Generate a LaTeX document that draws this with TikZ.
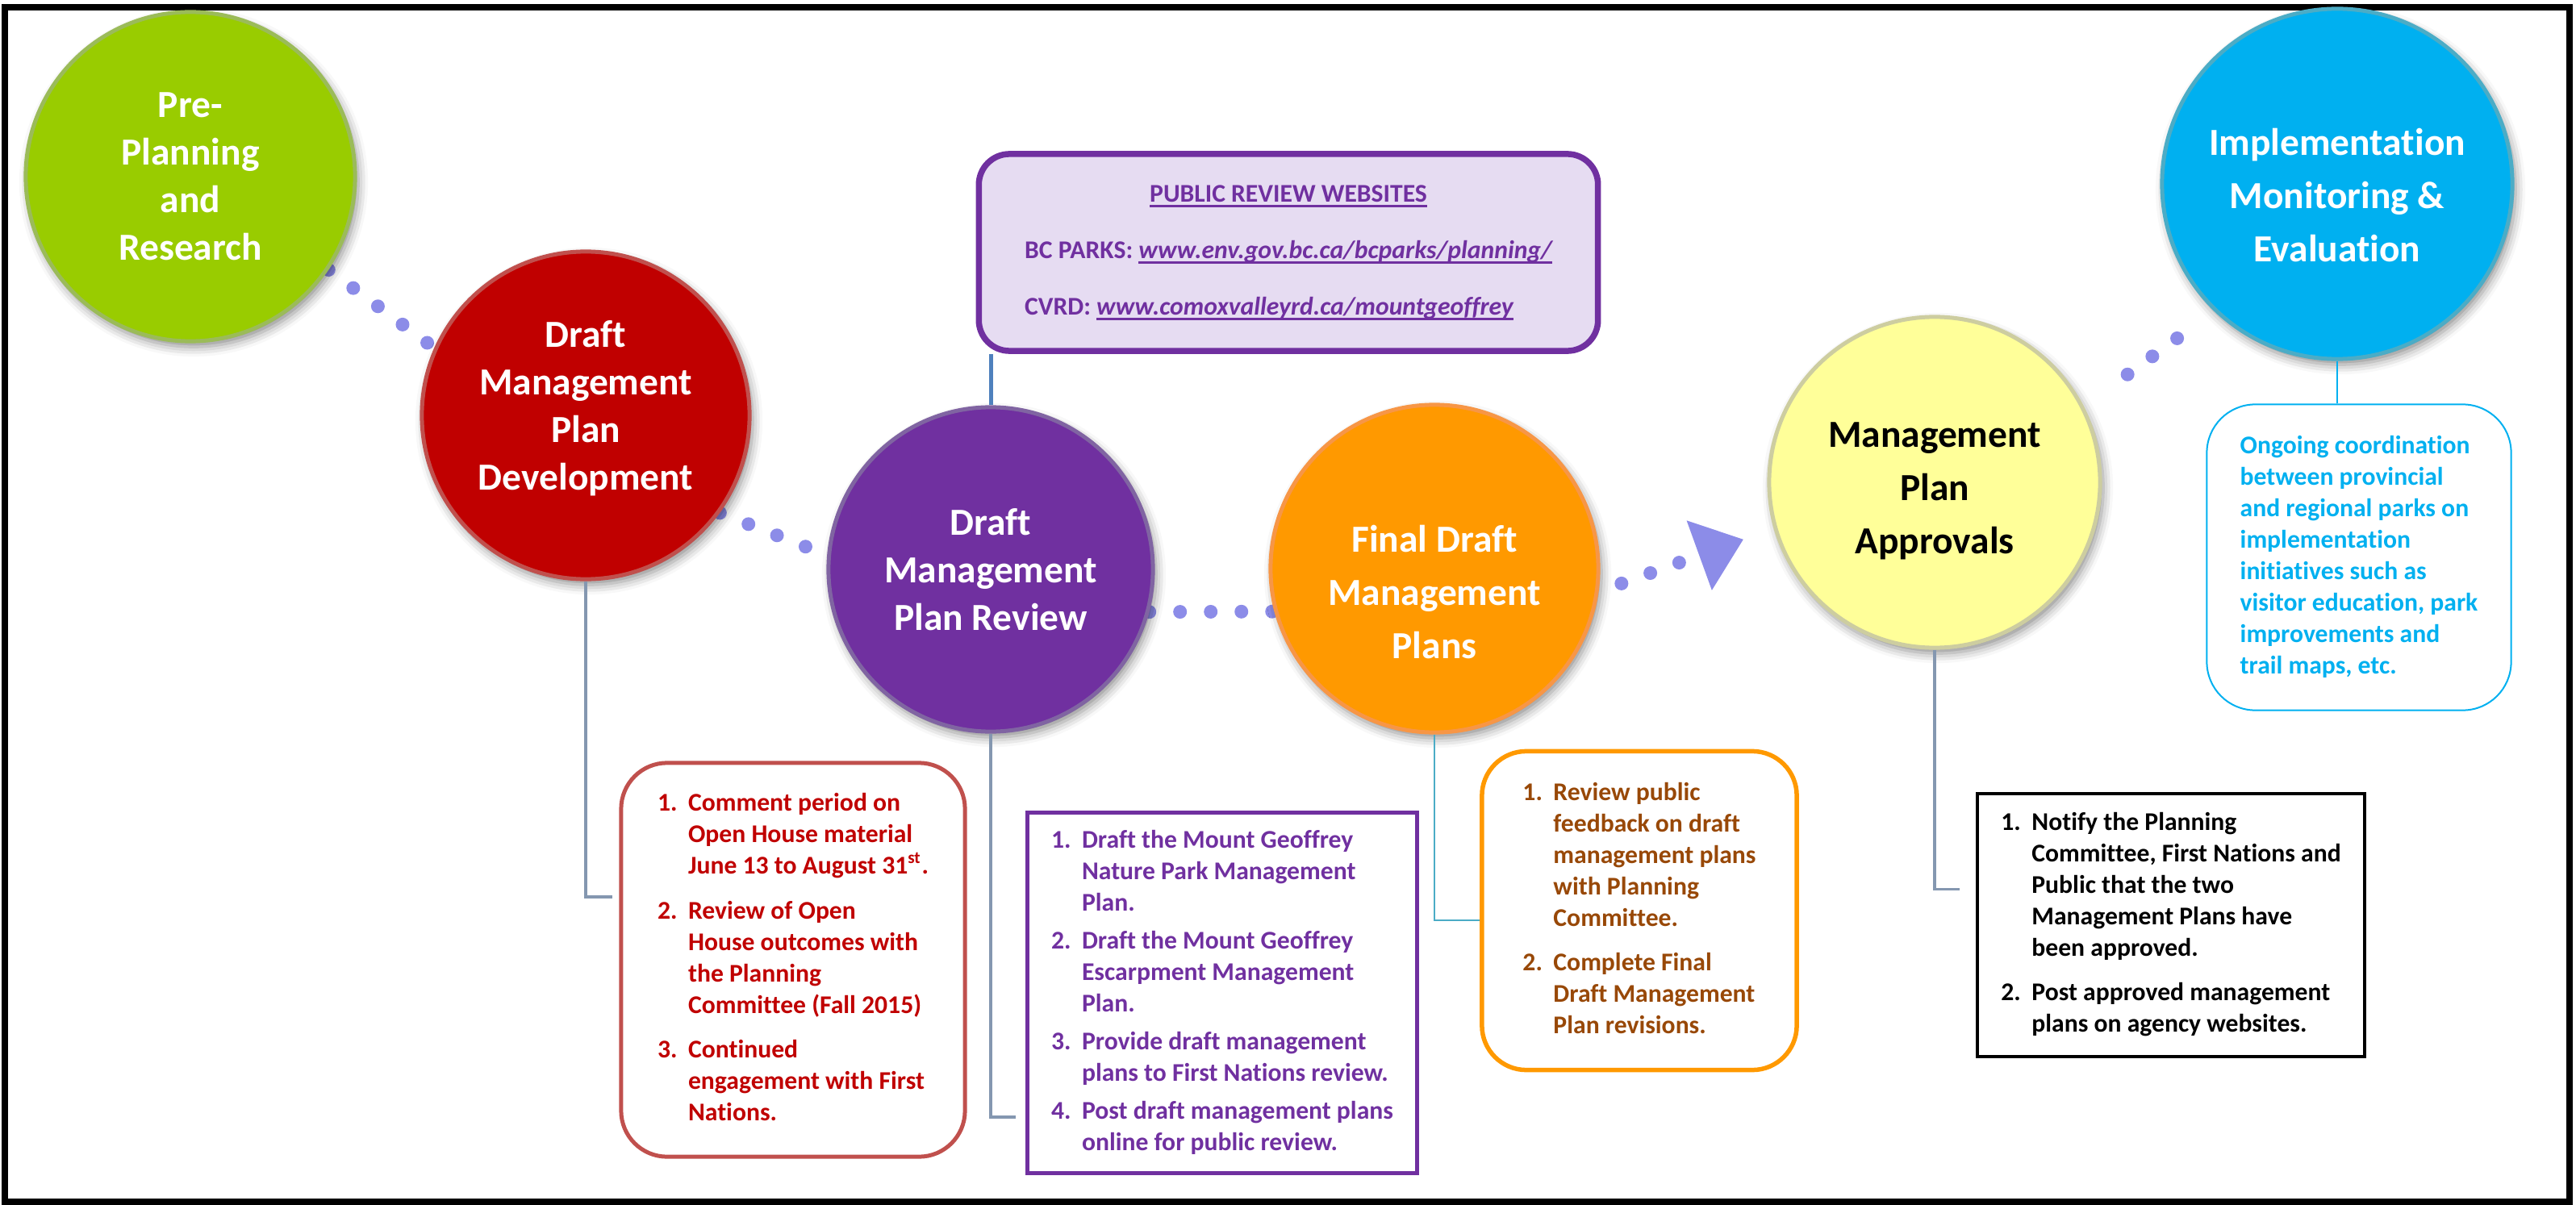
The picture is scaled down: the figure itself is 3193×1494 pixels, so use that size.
\documentclass[tikz,border=0pt]{standalone}
\usepackage{fontspec}
\setmainfont{Carlito}[Ligatures=NoCommon]
\usetikzlibrary{calc,arrows.meta,shadows.blur}
\pgfdeclarelayer{bg}
\pgfsetlayers{bg,main}

\newsavebox{\ulbox}
\newcommand{\uln}[1]{\sbox{\ulbox}{#1}\rlap{\rule[-1.8pt]{\wd\ulbox}{0.8pt}}\usebox{\ulbox}}

\definecolor{cgreen}{HTML}{99CC00}
\definecolor{cred}{HTML}{C00000}
\definecolor{cpurple}{HTML}{7030A0}
\definecolor{corange}{HTML}{FF9900}
\definecolor{cyellow}{HTML}{FFFF99}
\definecolor{cblue}{HTML}{00B0F0}
\definecolor{lgreen}{HTML}{9BBB59}
\definecolor{lred}{HTML}{C0504D}
\definecolor{lpurple}{HTML}{8064A2}
\definecolor{lorange}{HTML}{F79646}
\definecolor{lyellow}{RGB}{205,205,160}
\definecolor{lblue}{HTML}{4BACC6}
\definecolor{cbrown}{HTML}{984807}
\definecolor{cweb}{RGB}{230,220,242}
\definecolor{cdot}{RGB}{140,140,232}
\definecolor{clink}{RGB}{132,151,176}
\definecolor{cweblink}{HTML}{4F81BD}

\tikzset{stage/.style={circle, line width=0.05cm, inner sep=0pt,
  blur shadow={shadow xshift=0.04cm, shadow yshift=-0.07cm, shadow blur radius=0.12cm, shadow opacity=45}}}
\tikzset{ctext/.style={text=white, align=center, font=\fontsize{13.5}{16.8}\selectfont\bfseries}}
\tikzset{wtext/.style={ctext, font=\fontsize{13.5}{18.8}\selectfont\bfseries}}
\tikzset{infobox/.style={draw, line width=0.05cm, inner sep=0pt, font=\fontsize{9}{11.1}\selectfont\bfseries}}
\tikzset{dotline/.style={draw=cdot, line width=0.17cm, line cap=round, dash pattern=on 0pt off 0.38cm}}
\tikzset{link/.style={draw=clink, line width=0.035cm}}

\begin{document}
\begin{tikzpicture}[x=0.01cm, y=-0.01cm]
\useasboundingbox (0,0) rectangle (3193,1494);
\draw[line width=0.08cm] (6,9) rectangle (3185,1490);

% stages
\node[stage, fill=cgreen, draw=lgreen, minimum size=4.08cm,
  label={[ctext]center:{Pre-\\Planning\\and\\Research}}] (pre) at (236,219) {};
\node[stage, fill=cred, draw=lred, minimum size=4.06cm,
  label={[ctext, yshift=0.09cm]center:{Draft\\Management\\Plan\\Development}}] (dev) at (726,515) {};
\node[stage, fill=cpurple, draw=lpurple, minimum size=4.02cm,
  label={[ctext]center:{Draft\\Management\\Plan Review}}] (rev) at (1228,706) {};
\node[stage, fill=corange, draw=lorange, minimum size=4.06cm,
  label={[wtext, yshift=-0.29cm]center:{Final Draft\\Management\\Plans}}] (fin) at (1778,705) {};
\node[stage, fill=cyellow, draw=lyellow, minimum size=4.10cm,
  label={[wtext, text=black, yshift=-0.11cm]center:{Management\\Plan\\Approvals}}] (appr) at (2398,598) {};
\node[stage, fill=cblue, draw=lblue, minimum size=4.34cm,
  label={[wtext, yshift=-0.14cm]center:{Implementation\\Monitoring \&\\Evaluation}}] (impl) at (2897,228) {};

% notes
\node[infobox, draw=cpurple, fill=cweb, text=cpurple, line width=0.075cm, rounded corners=0.38cm,
  minimum width=7.67cm, minimum height=2.44cm] (web) at (1597,313) {\begin{tabular}{@{}l@{}}
\multicolumn{1}{@{}c@{}}{\uln{PUBLIC REVIEW WEBSITES}}\\[0.31cm]
BC PARKS: \uln{\itshape www.env.gov.bc.ca/bcparks/planning/}\\[0.31cm]
CVRD: \uln{\itshape www.comoxvalleyrd.ca/mountgeoffrey}
\end{tabular}};

\node[infobox, draw=lred, text=cred, rounded corners=0.57cm,
  minimum width=4.26cm, minimum height=4.88cm] (devbox) at (983,1190) {\begin{tabular}{@{}p{0.38cm}@{}l@{}}
1. & Comment period on\\
 & Open House material\\
 & June 13 to August 31\textsuperscript{st}.\\[0.17cm]
2. & Review of Open\\
 & House outcomes with\\
 & the Planning\\
 & Committee (Fall 2015)\\[0.16cm]
3. & Continued\\
 & engagement with First\\
 & Nations.
\end{tabular}};

\node[infobox, draw=cpurple, text=cpurple,
  minimum width=4.82cm, minimum height=4.47cm] (revbox) at (1515,1231) {\begin{tabular}{@{}p{0.38cm}@{}l@{}}
1. & Draft the Mount Geoffrey\\
 & Nature Park Management\\
 & Plan.\\[0.08cm]
2. & Draft the Mount Geoffrey\\
 & Escarpment Management\\
 & Plan.\\[0.08cm]
3. & Provide draft management\\
 & plans to First Nations review.\\[0.08cm]
4. & Post draft management plans\\
 & online for public review.
\end{tabular}};

\node[infobox, draw=corange, text=cbrown, line width=0.055cm, rounded corners=0.55cm,
  minimum width=3.90cm, minimum height=3.95cm] (finbox) at (2032,1129) {\begin{tabular}{@{}p{0.38cm}@{}l@{}}
1. & Review public\\
 & feedback on draft\\
 & management plans\\
 & with Planning\\
 & Committee.\\[0.16cm]
2. & Complete Final\\
 & Draft Management\\
 & Plan revisions.
\end{tabular}};

\node[infobox, draw=black, text=black, line width=0.045cm,
  minimum width=4.80cm, minimum height=3.26cm] (apprbox) at (2691,1147) {\begin{tabular}{@{}p{0.38cm}@{}l@{}}
1. & Notify the Planning\\
 & Committee, First Nations and\\
 & Public that the two\\
 & Management Plans have\\
 & been approved.\\[0.16cm]
2. & Post approved management\\
 & plans on agency websites.
\end{tabular}};

\node[infobox, draw=cblue, text=cblue, line width=0.02cm, rounded corners=0.6cm,
  minimum width=3.77cm, minimum height=3.79cm] (ongo) at (2924,691) {\begin{tabular}{@{}l@{}}
Ongoing coordination\\
between provincial\\
and regional parks on\\
implementation\\
initiatives such as\\
visitor education, park\\
improvements and\\
trail maps, etc.
\end{tabular}};

% dotted path
\begin{pgfonlayer}{bg}
\draw[dotline] (pre.-34) -- (dev.156);
\draw[dotline] (dev.-36) -- (rev.175);
\draw[dotline] (rev.-15) -- (fin.195);
\draw[dotline, shorten <=0.3cm, shorten >=0.4cm,
  -{Triangle[length=0.58cm, width=0.92cm, line width=0pt]}] (fin.-8) -- (appr.196);
\draw[dotline, shorten <=0.67cm, shorten >=0.55cm] (appr.27) -- (impl.226);
\end{pgfonlayer}

% links to notes
\draw[link, draw=cweblink, line width=0.05cm] (rev.north) -- (rev.north |- web.south);
\draw[link, shorten >=0.08cm] (dev.south) |- ($(devbox.north west)!0.342!(devbox.south west)$);
\draw[link, shorten >=0.12cm] (rev.south) |- ($(revbox.north west)!0.84!(revbox.south west)$);
\draw[link, draw=lblue, line width=0.025cm] (fin.south) |- ($(finbox.north west)!0.53!(finbox.south west)$);
\draw[link, shorten >=0.2cm] (appr.south) |- ($(apprbox.north west)!0.365!(apprbox.south west)$);
\draw[link, draw=cblue, line width=0.02cm] (impl.south) -- (impl.south |- ongo.north);
\end{tikzpicture}
\end{document}
